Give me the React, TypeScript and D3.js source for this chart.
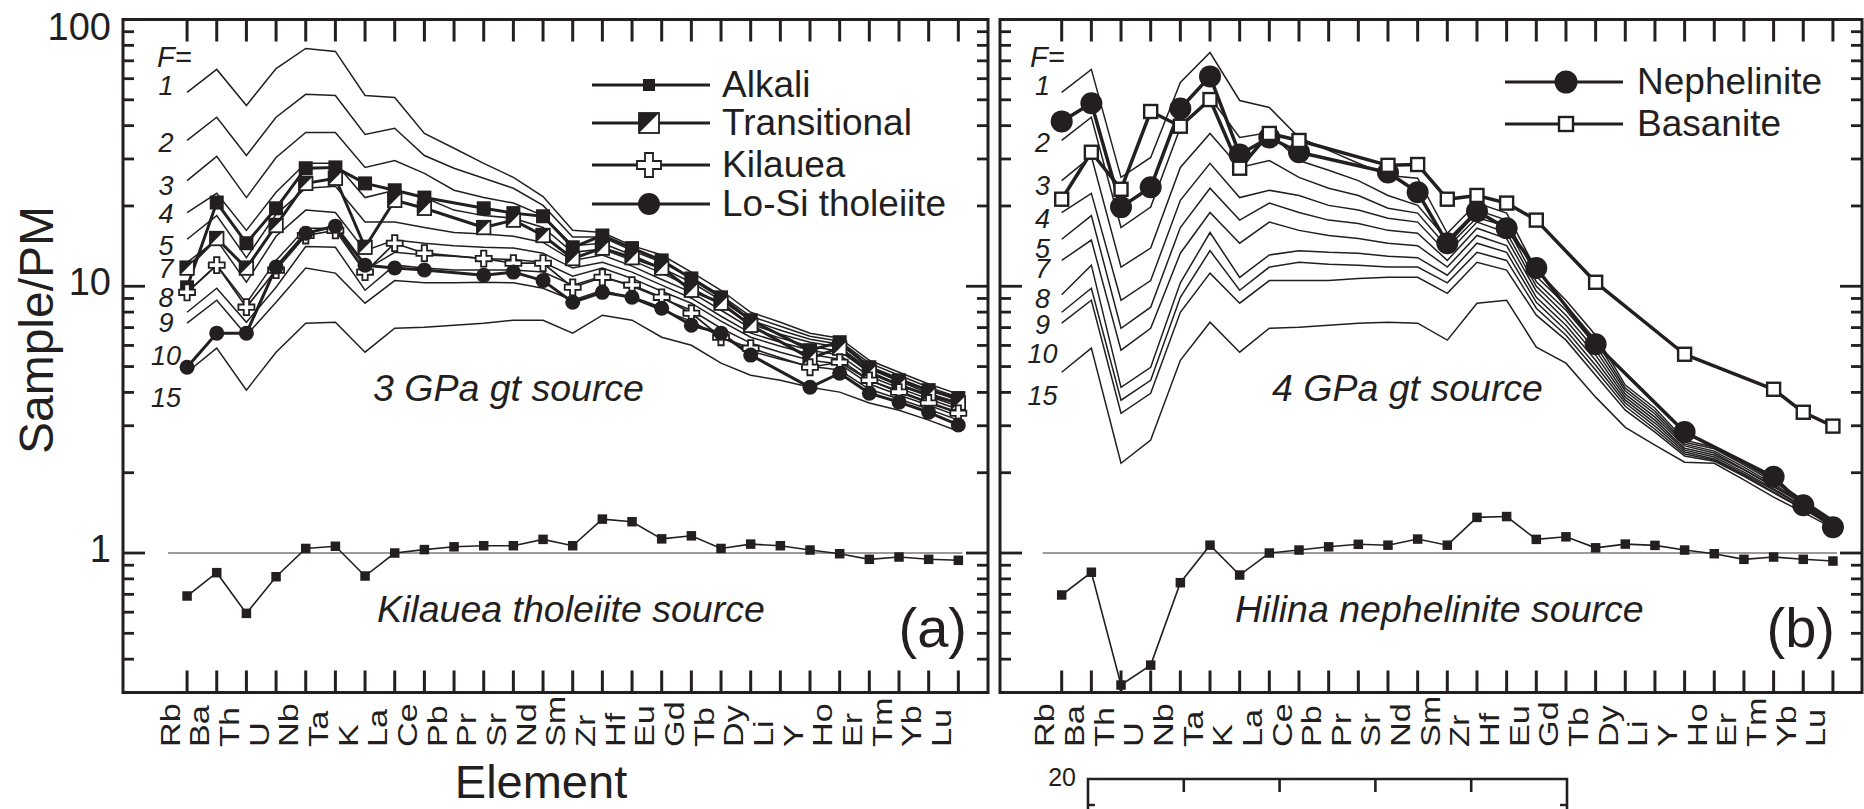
import React from "react";
import * as d3 from "d3";

// Trace elements in order of increasing compatibility
const ELEMENTS = ["Rb", "Ba", "Th", "U", "Nb", "Ta", "K", "La", "Ce", "Pb", "Pr", "Sr", "Nd", "Sm", "Zr", "Hf", "Eu", "Gd", "Tb", "Dy", "Li", "Y", "Ho", "Er", "Tm", "Yb", "Lu"];

// Melt fractions (%) of the batch-melting model curves
const MELT_F = ["1", "2", "3", "4", "5", "7", "8", "9", "10", "15"];

// Model melts of the Kilauea tholeiite source, 3 GPa garnet peridotite (one row per F)
const MELTS_3GPA: number[][] = [
  [53.3, 65.0, 47.6, 65.5, 77.9, 75.9, 51.9, 51.0, 37.4, 32.9, 28.9, 25.6, 21.7, 16.2, 15.9, 14.2, 13.1, 11.3, 9.66, 7.99, 7.33, 6.67, 6.39, 5.28, 4.76, 4.30, 3.94],
  [35.2, 43.0, 30.9, 43.0, 52.4, 51.9, 37.1, 39.1, 30.9, 27.7, 25.4, 23.3, 20.1, 15.3, 15.3, 13.6, 12.3, 10.8, 9.25, 7.72, 7.08, 6.50, 6.22, 5.15, 4.64, 4.18, 3.84],
  [24.9, 30.7, 21.5, 30.4, 37.7, 37.7, 27.9, 29.6, 26.5, 22.9, 21.5, 20.5, 18.4, 14.2, 14.5, 13.1, 11.7, 10.35, 8.86, 7.46, 6.84, 6.33, 6.06, 5.01, 4.52, 4.08, 3.74],
  [18.9, 22.3, 16.2, 22.5, 28.9, 28.9, 21.5, 22.9, 21.5, 19.3, 18.4, 18.0, 16.6, 13.4, 13.8, 12.5, 11.2, 9.91, 8.49, 7.21, 6.61, 6.17, 5.91, 4.89, 4.41, 3.97, 3.65],
  [15.0, 18.4, 12.8, 18.6, 23.3, 23.7, 17.4, 17.4, 16.6, 15.9, 15.7, 15.4, 14.6, 12.5, 13.1, 11.9, 10.6, 9.49, 8.13, 6.96, 6.39, 5.96, 5.71, 4.76, 4.30, 3.87, 3.55],
  [12.3, 14.9, 10.35, 15.4, 19.3, 18.9, 13.6, 14.9, 14.5, 14.2, 14.0, 13.9, 13.3, 11.7, 12.3, 11.3, 10.1, 9.02, 7.72, 6.67, 6.17, 5.76, 5.52, 4.60, 4.15, 3.78, 3.46],
  [9.49, 12.0, 8.64, 12.5, 16.5, 16.5, 11.5, 13.4, 13.1, 12.95, 12.7, 12.6, 12.3, 10.9, 11.7, 10.7, 9.58, 8.64, 7.40, 6.44, 5.96, 5.56, 5.33, 4.44, 4.05, 3.68, 3.37],
  [7.99, 9.83, 7.33, 9.91, 14.1, 14.0, 9.66, 12.0, 11.7, 11.5, 11.5, 11.5, 11.3, 10.1, 10.9, 10.0, 9.02, 8.13, 6.96, 6.12, 5.66, 5.28, 5.11, 4.30, 3.91, 3.58, 3.26],
  [7.27, 8.86, 6.55, 8.71, 11.7, 11.2, 8.64, 10.5, 10.3, 10.3, 10.35, 10.3, 9.83, 8.86, 9.66, 9.02, 8.13, 7.40, 6.44, 5.71, 5.33, 5.01, 4.85, 4.11, 3.78, 3.46, 3.15],
  [4.76, 5.86, 4.08, 5.66, 7.27, 7.33, 5.66, 6.96, 7.02, 7.14, 7.27, 7.46, 7.46, 6.67, 7.79, 7.46, 6.44, 6.01, 5.15, 4.64, 4.44, 4.18, 4.01, 3.65, 3.43, 3.15, 2.86],
];

// Model melts of the Hilina nephelinite source, 4 GPa garnet peridotite (one row per F)
const MELTS_4GPA: number[][] = [
  [53.3, 65.0, 25.6, 30.4, 58.1, 75.2, 49.7, 46.8, 36.1, 32.3, 28.9, 26.0, 25.4, 15.8, 20.5, 18.8, 11.5, 8.86, 6.55, 4.26, 3.49, 2.65, 2.49, 2.17, 1.88, 1.58, 1.33],
  [35.2, 43.0, 16.6, 19.8, 39.4, 51.0, 36.1, 37.7, 29.6, 27.2, 24.9, 21.9, 20.1, 14.9, 19.3, 17.7, 10.9, 8.49, 6.28, 4.15, 3.40, 2.60, 2.46, 2.14, 1.85, 1.57, 1.32],
  [24.9, 30.7, 11.8, 13.9, 27.9, 37.4, 27.9, 29.6, 25.6, 23.3, 21.9, 19.6, 18.8, 14.0, 18.1, 16.8, 10.4, 8.13, 6.01, 4.05, 3.32, 2.56, 2.41, 2.10, 1.81, 1.55, 1.31],
  [18.9, 22.3, 8.86, 10.5, 21.0, 28.9, 21.5, 22.9, 21.9, 20.1, 19.3, 18.0, 17.4, 13.3, 17.4, 15.9, 10.0, 7.79, 5.76, 3.94, 3.23, 2.52, 2.37, 2.06, 1.78, 1.54, 1.30],
  [15.0, 18.4, 6.96, 8.35, 16.6, 23.3, 17.7, 20.5, 18.9, 17.7, 17.2, 16.2, 15.8, 12.5, 16.5, 15.1, 9.58, 7.46, 5.52, 3.84, 3.15, 2.47, 2.33, 2.05, 1.77, 1.53, 1.28],
  [12.5, 14.9, 5.76, 6.96, 13.3, 18.9, 14.5, 17.4, 16.2, 15.5, 15.1, 14.5, 14.2, 11.8, 15.5, 14.2, 9.09, 7.14, 5.28, 3.74, 3.07, 2.43, 2.29, 2.01, 1.74, 1.50, 1.28],
  [9.3, 12.0, 4.18, 4.97, 10.3, 15.9, 10.8, 13.1, 13.6, 13.4, 13.3, 12.95, 12.8, 11.0, 14.5, 13.4, 8.71, 6.84, 5.06, 3.65, 2.99, 2.39, 2.25, 1.98, 1.72, 1.49, 1.27],
  [7.99, 9.83, 3.74, 4.44, 9.09, 13.6, 9.66, 11.8, 12.3, 12.1, 12.0, 11.8, 11.8, 10.3, 13.4, 12.5, 8.27, 6.55, 4.85, 3.55, 2.91, 2.35, 2.23, 1.96, 1.69, 1.47, 1.26],
  [7.27, 8.86, 3.34, 3.97, 7.99, 11.2, 8.64, 10.5, 10.5, 10.5, 10.7, 10.8, 10.8, 9.41, 12.3, 11.5, 7.79, 6.28, 4.64, 3.43, 2.84, 2.31, 2.21, 1.94, 1.68, 1.46, 1.26],
  [4.76, 5.86, 2.17, 2.65, 5.28, 7.33, 5.66, 6.96, 7.02, 7.14, 7.27, 7.33, 7.27, 6.28, 8.64, 8.86, 5.91, 5.15, 3.84, 2.96, 2.54, 2.19, 2.17, 1.88, 1.62, 1.42, 1.24],
];

// Source compositions (primitive-mantle normalised)
const KILAUEA_SOURCE = [0.69, 0.844, 0.594, 0.815, 1.04, 1.06, 0.82, 1.0, 1.03, 1.055, 1.065, 1.065, 1.125, 1.065, 1.34, 1.31, 1.13, 1.16, 1.04, 1.08, 1.065, 1.026, 0.994, 0.947, 0.966, 0.947, 0.939];
const HILINA_SOURCE = [0.696, 0.847, 0.32, 0.38, 0.774, 1.07, 0.827, 1.0, 1.026, 1.055, 1.078, 1.07, 1.128, 1.07, 1.36, 1.37, 1.125, 1.15, 1.046, 1.08, 1.068, 1.026, 0.994, 0.947, 0.966, 0.947, 0.933];

// Average lava compositions (null = not analysed)
const ALKALI = [9.91, 20.6, 14.5, 19.6, 27.7, 27.9, 24.3, 22.9, 21.5, null, 19.6, 18.8, 18.3, 14.0, 15.5, 13.9, 12.5, 10.7, 9.09, 7.46, null, 5.76, 6.17, 4.97, 4.44, 4.08, 3.81];
const TRANSITIONAL = [11.7, 15.1, 11.7, 16.9, 24.3, 25.4, 14.0, 21.0, 19.6, null, 16.6, 17.7, 15.5, 12.7, 13.9, 12.8, 11.7, 9.66, 8.64, 7.14, null, 5.38, 5.86, 4.76, 4.26, 3.91, 3.65];
const KILAUEA = [9.49, 12.0, 8.35, 11.5, 15.5, 16.2, 11.3, 14.5, 13.3, null, 12.7, 12.2, 12.2, 9.91, 10.8, 10.1, 9.09, 7.92, 6.44, 5.86, null, 4.97, 5.19, 4.44, 4.01, 3.65, 3.34];
const LOSI_THOLEIITE = [4.97, 6.67, 6.67, 11.8, 15.8, 16.8, 12.0, 11.7, 11.5, null, 11.0, 11.3, 10.5, 8.71, 9.49, 9.09, 8.27, 7.14, 6.67, 5.52, null, 4.18, 4.72, 3.97, 3.68, 3.37, 3.02];
const NEPHELINITE = [41.5, 48.5, 19.8, 23.5, 46.4, 61.2, 31.2, 36.1, 31.8, null, null, 26.7, 22.5, 14.5, 19.1, 16.5, 11.7, null, 6.06, null, null, 2.84, null, null, 1.93, 1.51, 1.25];
const BASANITE = [21.2, 31.8, 23.1, 45.2, 39.8, 50.1, 27.7, 37.4, 35.2, null, null, 28.4, 28.6, 21.2, 21.9, 20.5, 17.7, null, 10.35, null, null, 5.56, null, null, 4.11, 3.37, 2.99];

const Y_LABEL_TICKS = [1, 10, 100];
const INSET_X_TICKS = [1, 2, 3, 4];
const INSET_Y_TICKS = [18];

const W = 1864;
const H = 809;
const INK = "#231f20";
const SANS = "'Liberation Sans', Arial, Helvetica, sans-serif";

const yScale = d3.scaleLog().domain([0.3, 100]).range([692.5, 19.5]);
const PLOT_TOP = yScale(100);
const PLOT_BOTTOM = yScale(0.3);

type Pt = [number, number];

function marker(kind: string, cx: number, cy: number, s: number, key?: React.Key) {
  const h = s / 2;
  switch (kind) {
    case "solidSquare":
      return <rect key={key} x={cx - h} y={cy - h} width={s} height={s} fill={INK} />;
    case "halfSquare":
      return (
        <g key={key}>
          <rect x={cx - h} y={cy - h} width={s} height={s} fill="#fff" stroke={INK} strokeWidth={1.8} />
          <path d={`M${cx - h},${cy - h}H${cx + h}L${cx - h},${cy + h}Z`} fill={INK} />
        </g>
      );
    case "cross": {
      const a = s / 6;
      const d = `M${cx - a},${cy - h}H${cx + a}V${cy - a}H${cx + h}V${cy + a}H${cx + a}V${cy + h}H${cx - a}V${cy + a}H${cx - h}V${cy - a}H${cx - a}Z`;
      return <path key={key} d={d} fill="#fff" stroke={INK} strokeWidth={1.8} />;
    }
    case "dot":
      return <circle key={key} cx={cx} cy={cy} r={h} fill={INK} />;
    case "openSquare":
      return <rect key={key} x={cx - h} y={cy - h} width={s} height={s} fill="#fff" stroke={INK} strokeWidth={2.4} />;
    default:
      return null;
  }
}

interface Series {
  values: (number | null)[];
  kind: string;
  size: number;
  lineWidth: number;
  legendSize: number;
  label: string;
}

interface PanelProps {
  left: number;
  right: number;
  padLeft: number;
  padRight: number;
  melts: number[][];
  fEqX: number;
  fLabelX: number;
  fBaselines: number[];
  source: number[];
  sourceText: string;
  sourceTextX: number;
  pressureText: string;
  pressureTextX: number;
  tag: string;
  tagX: number;
  series: Series[];
  legendRows: number[];
  legendLine: [number, number];
  legendMarkerX: number;
  legendTextX: number;
  yLabels: boolean;
}

function Panel(p: PanelProps) {
  const x = d3
    .scaleLinear()
    .domain([-p.padLeft, ELEMENTS.length - 1 + p.padRight])
    .range([p.left, p.right]);
  const line = d3
    .line<Pt>()
    .x((d) => x(d[0]))
    .y((d) => yScale(d[1]));
  const points = (vals: (number | null)[]): Pt[] =>
    vals.map((v, i) => [i, v] as [number, number | null]).filter((d) => d[1] != null) as Pt[];

  const yTicks = yScale.ticks();
  const isMajor = (t: number) => Math.abs(Math.log10(t) - Math.round(Math.log10(t))) < 1e-6;
  const last = ELEMENTS.length - 1;

  return (
    <g>
      {/* model melt curves */}
      {p.melts.map((row, k) => (
        <path key={"m" + k} d={line(points(row)) || ""} fill="none" stroke={INK} strokeWidth={1.5} strokeLinejoin="miter" />
      ))}
      <text x={p.fEqX} y={67} fontFamily={SANS} fontStyle="italic" fontSize={29} fill={INK}>F=</text>
      {MELT_F.map((f, k) => (
        <text key={"f" + k} x={p.fLabelX} y={p.fBaselines[k]} textAnchor="middle" fontFamily={SANS} fontStyle="italic" fontSize={27} fill={INK}>
          {f}
        </text>
      ))}

      {/* unity reference and source composition */}
      <line x1={x(0) - 19} x2={x(last) + 4} y1={yScale(1)} y2={yScale(1)} stroke="#7a7a7a" strokeWidth={1.3} />
      <path d={line(points(p.source)) || ""} fill="none" stroke={INK} strokeWidth={1.6} />
      {points(p.source).map((d, i) => marker("solidSquare", x(d[0]), yScale(d[1]), 9.5, "s" + i))}

      {/* lava series */}
      {p.series.map((s, k) => (
        <path key={"l" + k} d={line(points(s.values)) || ""} fill="none" stroke={INK} strokeWidth={s.lineWidth} strokeLinejoin="round" />
      ))}
      {p.series.map((s, k) => (
        <g key={"g" + k}>{points(s.values).map((d, i) => marker(s.kind, x(d[0]), yScale(d[1]), s.size, i))}</g>
      ))}

      {/* frame */}
      <path d={`M${p.left},${PLOT_TOP}H${p.right}V${PLOT_BOTTOM}H${p.left}Z`} fill="none" stroke={INK} strokeWidth={3} />
      {ELEMENTS.map((el, i) => (
        <g key={"xt" + i}>
          <line x1={x(i)} x2={x(i)} y1={PLOT_TOP} y2={PLOT_TOP + 22} stroke={INK} strokeWidth={3} />
          <line x1={x(i)} x2={x(i)} y1={PLOT_BOTTOM} y2={PLOT_BOTTOM - 22} stroke={INK} strokeWidth={3} />
          <text
            transform={`translate(${x(i) - 7.5},747) rotate(-90) scale(1.27,1)`}
            textAnchor="start"
            fontFamily={SANS}
            fontSize={27}
            fill={INK}
          >
            {el}
          </text>
        </g>
      ))}
      {yTicks.map((t, i) => {
        const len = isMajor(t) ? 22 : 11;
        const yy = yScale(t);
        return (
          <g key={"yt" + i}>
            <line x1={p.left} x2={p.left + len} y1={yy} y2={yy} stroke={INK} strokeWidth={2.8} />
            <line x1={p.right} x2={p.right - len} y1={yy} y2={yy} stroke={INK} strokeWidth={2.8} />
          </g>
        );
      })}
      {p.yLabels &&
        Y_LABEL_TICKS.map((t) => (
          <text key={"yl" + t} x={111} y={Math.max(yScale(t) + 9, 40)} textAnchor="end" fontFamily={SANS} fontSize={38} fill={INK}>
            {t}
          </text>
        ))}

      {/* annotations */}
      <text x={p.pressureTextX} y={401} fontFamily={SANS} fontStyle="italic" fontSize={37.5} fill={INK}>
        {p.pressureText}
      </text>
      <text x={p.sourceTextX} y={622} fontFamily={SANS} fontStyle="italic" fontSize={37.5} fill={INK}>
        {p.sourceText}
      </text>
      <text x={p.tagX} y={647} textAnchor="end" fontFamily={SANS} fontSize={56} fill={INK}>
        {p.tag}
      </text>

      {/* legend */}
      {p.series.map((s, k) => {
        const ry = p.legendRows[k];
        return (
          <g key={"lg" + k}>
            <line x1={p.legendLine[0]} x2={p.legendLine[1]} y1={ry} y2={ry} stroke={INK} strokeWidth={3} />
            {marker(s.kind, p.legendMarkerX, ry, s.legendSize)}
            <text x={p.legendTextX} y={ry + 11.5} fontFamily={SANS} fontSize={37} fill={INK}>
              {s.label}
            </text>
          </g>
        );
      })}
    </g>
  );
}

const SERIES_3GPA: Series[] = [
  { values: ALKALI, kind: "solidSquare", size: 14, lineWidth: 3, legendSize: 12, label: "Alkali" },
  { values: TRANSITIONAL, kind: "halfSquare", size: 13.5, lineWidth: 3, legendSize: 20, label: "Transitional" },
  { values: KILAUEA, kind: "cross", size: 16, lineWidth: 1.7, legendSize: 24, label: "Kilauea" },
  { values: LOSI_THOLEIITE, kind: "dot", size: 15, lineWidth: 3, legendSize: 22, label: "Lo-Si tholeiite" },
];

const SERIES_4GPA: Series[] = [
  { values: NEPHELINITE, kind: "dot", size: 22, lineWidth: 3.5, legendSize: 23, label: "Nephelinite" },
  { values: BASANITE, kind: "openSquare", size: 13, lineWidth: 3.5, legendSize: 14, label: "Basanite" },
];

function Inset() {
  const ix = d3.scaleLinear().domain([0, 5]).range([1088, 1567]);
  const iy = d3.scaleLinear().domain([0, 20]).range([1039, 779]);
  return (
    <g>
      <path d={`M${ix(0)},${H + 5}V${iy(20)}H${ix(5)}V${H + 5}`} fill="none" stroke={INK} strokeWidth={2.6} />
      {INSET_X_TICKS.map((t) => (
        <line key={"ix" + t} x1={ix(t)} x2={ix(t)} y1={iy(20)} y2={iy(20) + 13} stroke={INK} strokeWidth={2.6} />
      ))}
      {INSET_Y_TICKS.map((t) => (
        <g key={"iy" + t}>
          <line x1={ix(0)} x2={ix(0) + 7} y1={iy(t)} y2={iy(t)} stroke={INK} strokeWidth={2.4} />
          <line x1={ix(5)} x2={ix(5) - 7} y1={iy(t)} y2={iy(t)} stroke={INK} strokeWidth={2.4} />
        </g>
      ))}
      <text x={1076} y={786} textAnchor="end" fontFamily={SANS} fontSize={25} fill={INK}>20</text>
    </g>
  );
}

export default function App() {
  return (
    <svg
      width={W}
      height={H}
      viewBox={`0 0 ${W} ${H}`}
      style={{ position: "absolute", left: 0, top: 0, display: "block", background: "#fff" }}
    >
      <rect width={W} height={H} fill="#fff" />
      <Panel
        left={123}
        right={988}
        padLeft={2.16}
        padRight={1.0}
        melts={MELTS_3GPA}
        fEqX={157}
        fLabelX={166}
        fBaselines={[95, 152, 195, 223, 255, 278, 307, 332, 365, 407]}
        source={KILAUEA_SOURCE}
        sourceText="Kilauea tholeiite source"
        sourceTextX={377}
        pressureText="3 GPa gt source"
        pressureTextX={373}
        tag="(a)"
        tagX={967}
        series={SERIES_3GPA}
        legendRows={[85, 123, 165, 204]}
        legendLine={[592, 710]}
        legendMarkerX={649}
        legendTextX={722}
        yLabels={true}
      />
      <Panel
        left={1000}
        right={1862}
        padLeft={2.08}
        padRight={0.98}
        melts={MELTS_4GPA}
        fEqX={1030}
        fLabelX={1042.5}
        fBaselines={[95, 152, 195, 228, 258, 278, 308, 334, 363, 405]}
        source={HILINA_SOURCE}
        sourceText="Hilina nephelinite source"
        sourceTextX={1235}
        pressureText="4 GPa gt source"
        pressureTextX={1272}
        tag="(b)"
        tagX={1835}
        series={SERIES_4GPA}
        legendRows={[82, 124]}
        legendLine={[1505, 1623]}
        legendMarkerX={1566}
        legendTextX={1637}
        yLabels={false}
      />
      <text transform="translate(53,330) rotate(-90)" textAnchor="middle" fontFamily={SANS} fontSize={48} fill={INK}>
        Sample/PM
      </text>
      <text x={541} y={798} textAnchor="middle" fontFamily={SANS} fontSize={47} fill={INK}>
        Element
      </text>
      <Inset />
    </svg>
  );
}
